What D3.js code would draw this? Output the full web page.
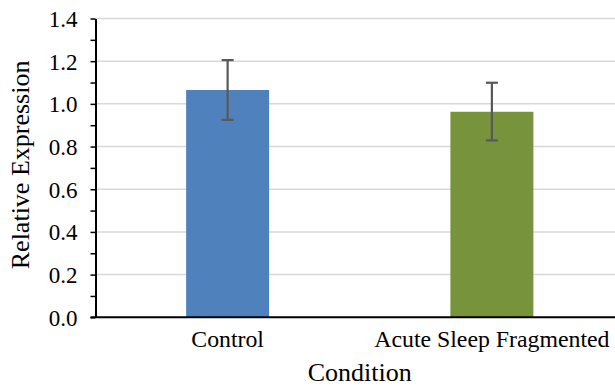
<!DOCTYPE html>
<html>
<head>
<meta charset="utf-8">
<script src="https://cdn.jsdelivr.net/npm/d3@7"></script>
<style>
  body { margin: 0; background: #fff; }
  text { font-family: "Liberation Serif", "Times New Roman", serif; fill: #000; }
</style>
</head>
<body>
<div class="svgcontainer"></div>
<script>
// chart data
const categories = ["Control", "Acute Sleep Fragmented"];
const means = [1.065, 0.963];
const errLow = [0.925, 0.829];
const errHigh = [1.205, 1.099];
const yTicks = [0, 0.2, 0.4, 0.6, 0.8, 1.0, 1.2, 1.4];
const barColors = ["#4f81bd", "#77933c"];

function drawChart() {
    const width = 615, height = 387;
    const plot = { left: 95.5, right: 624, top: 18.5, bottom: 317.3 };

    const svg = d3.select('.svgcontainer')
        .append('svg')
        .attr('width', width)
        .attr('height', height);

    const x = d3.scaleBand()
        .domain(categories)
        .range([plot.left, plot.right])
        .paddingInner(0.686)
        .paddingOuter(0.343);

    const y = d3.scaleLinear()
        .domain([0, 1.4])
        .range([plot.bottom, plot.top]);

    // gridlines
    svg.selectAll('.grid')
        .data(yTicks.slice(1))
        .enter()
        .append('line')
        .attr('x1', plot.left)
        .attr('x2', width)
        .attr('y1', d => y(d))
        .attr('y2', d => y(d))
        .attr('stroke', '#d9d9d9')
        .attr('stroke-width', 1.5);

    // bars
    svg.selectAll('.bar')
        .data(categories)
        .enter()
        .append('rect')
        .attr('x', d => x(d))
        .attr('width', x.bandwidth())
        .attr('y', (d, i) => y(means[i]))
        .attr('height', (d, i) => y(0) - y(means[i]))
        .attr('fill', (d, i) => barColors[i]);

    // error bars
    const eb = svg.selectAll('.err')
        .data(categories)
        .enter()
        .append('g')
        .attr('stroke', '#595959')
        .attr('stroke-width', 2.2);
    const cx = d => x(d) + x.bandwidth() / 2;
    eb.append('line')
        .attr('x1', cx).attr('x2', cx)
        .attr('y1', (d, i) => y(errLow[i]))
        .attr('y2', (d, i) => y(errHigh[i]));
    eb.append('line')
        .attr('x1', d => cx(d) - 6).attr('x2', d => cx(d) + 6)
        .attr('y1', (d, i) => y(errHigh[i]))
        .attr('y2', (d, i) => y(errHigh[i]));
    eb.append('line')
        .attr('x1', d => cx(d) - 6).attr('x2', d => cx(d) + 6)
        .attr('y1', (d, i) => y(errLow[i]))
        .attr('y2', (d, i) => y(errLow[i]));

    // y axis with major + minor ticks
    const minorTicks = d3.range(0.1, 1.4, 0.2);
    svg.append('g')
        .attr('transform', `translate(${plot.left},0)`)
        .call(d3.axisLeft(y).tickValues(minorTicks).tickSize(5).tickFormat(''))
        .call(g => g.select('.domain').remove())
        .selectAll('line').attr('stroke', '#000').attr('stroke-width', 1.5);

    const yAxis = svg.append('g')
        .attr('transform', `translate(${plot.left},0)`)
        .call(d3.axisLeft(y).tickValues(yTicks).tickSize(5).tickSizeOuter(0)
            .tickFormat(d3.format('.1f')));
    yAxis.select('.domain').attr('stroke', '#000').attr('stroke-width', 2);
    yAxis.selectAll('line').attr('stroke', '#000').attr('stroke-width', 1.5);
    yAxis.selectAll('text')
        .attr('x', -18)
        .attr('dy', '0.35em')
        .style('font-size', '23px')
        .style('font-family', '"Liberation Serif", serif');

    // x axis line
    svg.append('line')
        .attr('x1', plot.left - 5)
        .attr('x2', width)
        .attr('y1', y(0))
        .attr('y2', y(0))
        .attr('stroke', '#000')
        .attr('stroke-width', 2);

    // category labels
    svg.selectAll('.cat')
        .data(categories)
        .enter()
        .append('text')
        .attr('x', cx)
        .attr('y', 347)
        .attr('text-anchor', 'middle')
        .style('font-size', '23.8px')
        .text(d => d);

    // axis titles
    svg.append('text')
        .attr('x', (plot.left + plot.right) / 2)
        .attr('y', 381)
        .attr('text-anchor', 'middle')
        .style('font-size', '26px')
        .text('Condition');

    svg.append('text')
        .attr('transform', `translate(29,${(plot.top + plot.bottom) / 2 - 3}) rotate(-90)`)
        .attr('text-anchor', 'middle')
        .style('font-size', '26px')
        .text('Relative Expression');
}

drawChart();
</script>
</body>
</html>
